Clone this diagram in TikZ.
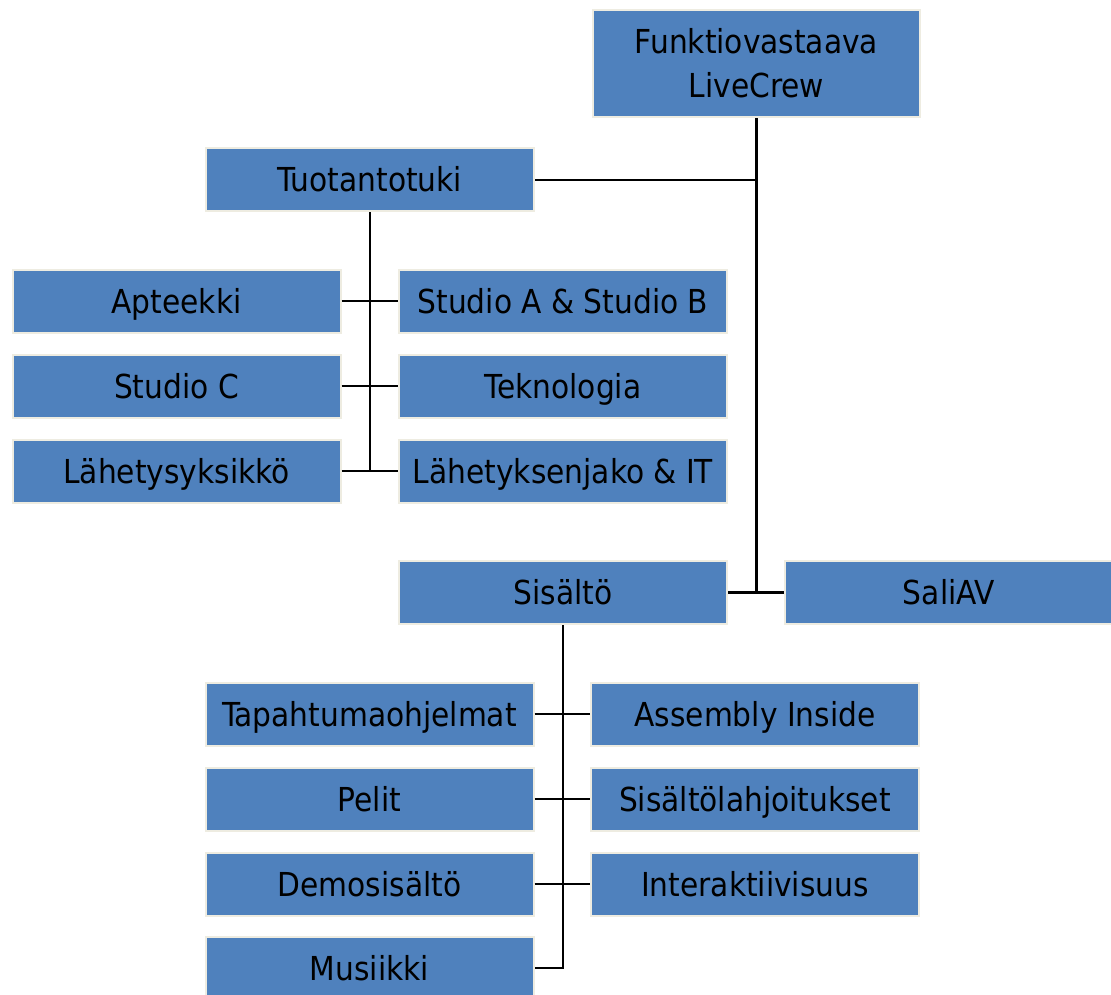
\documentclass[tikz,border=0pt]{standalone}
\usepackage{fontspec}
\setmainfont{DejaVu Sans Condensed}
\begin{document}
\begin{tikzpicture}[x=1pt,y=-1pt,
  unit/.style={rectangle, fill=boxblue, draw=boxrim, line width=2pt,
    minimum width=328pt, minimum height=63pt, inner sep=0pt,
    font=\fontsize{33}{45}\selectfont, text=black,
    text height=24pt, text depth=0pt},
  link/.style={draw=black, line width=2.6pt}]
\definecolor{boxblue}{HTML}{4F81BD}
\definecolor{boxrim}{HTML}{EEECE1}
\useasboundingbox (0,0) rectangle (1111,995);
\clip (0,0) rectangle (1111,995);

% head of the organisation
\node[unit, minimum width=327pt, minimum height=107pt, text height=, text depth=, align=center,
  font=\fontsize{33}{44}\selectfont] (head) at (756.5,63.5) {Funktiovastaava\\LiveCrew};

% production support branch
\node[unit] (tuki) at (370,180) {Tuotantotuki};
\node[unit] (apt) at (176.5,301) {Apteekki};
\node[unit] (stab) at (563,301) {Studio A \& Studio B};
\node[unit] (stc) at (176.5,386) {Studio C};
\node[unit] (tek) at (563,386) {Teknologia};
\node[unit] (lah) at (176.5,471) {Lähetysyksikkö};
\node[unit] (jako) at (563,471) {Lähetyksenjako \& IT};

% content branch and hall AV
\node[unit] (sis) at (563,592.5) {Sisältö};
\node[unit] (sali) at (949,592.5) {SaliAV};
\node[unit] (tap) at (369.5,714) {Tapahtumaohjelmat};
\node[unit] (asm) at (755,714) {Assembly Inside};
\node[unit] (pel) at (369.5,799) {Pelit};
\node[unit] (lahj) at (755,799) {Sisältölahjoitukset};
\node[unit] (demo) at (369.5,884) {Demosisältö};
\node[unit] (inter) at (755,884) {Interaktiivisuus};
\node[unit] (mus) at (369.5,968) {Musiikki};

% connectors from the head
\draw[link] (head.south) -- (head.south |- sali.west);
\draw[link] (sis.east) -- (sali.west);
\draw[link] (tuki.east) -- (tuki.east -| head.south);

% production support connectors
\draw[link] (tuki.south) -- (tuki.south |- lah.east);
\draw[link] (apt.east) -- (stab.west);
\draw[link] (stc.east) -- (tek.west);
\draw[link] (lah.east) -- (jako.west);

% content connectors
\draw[link] (sis.south) -- (sis.south |- mus.east) -- (mus.east);
\draw[link] (tap.east) -- (asm.west);
\draw[link] (pel.east) -- (lahj.west);
\draw[link] (demo.east) -- (inter.west);
\end{tikzpicture}
\end{document}
